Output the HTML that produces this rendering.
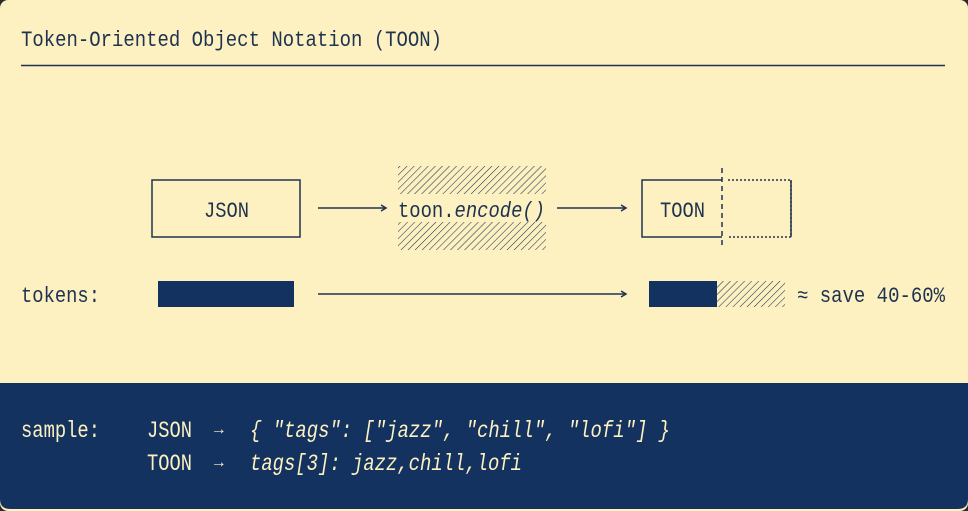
<!DOCTYPE html>
<html><head><style>
html,body{margin:0;padding:0;background:#2a2a2a;}
svg{display:block}
text{font-family:"Liberation Mono","DejaVu Sans Mono",monospace;}
</style></head><body>
<svg width="968" height="511" viewBox="0 0 968 511" xmlns="http://www.w3.org/2000/svg">
<defs>
<pattern id="h" patternUnits="userSpaceOnUse" width="5" height="5" patternTransform="rotate(45)">
<rect width="5" height="5" fill="#fdf1c1"/>
<line x1="0" y1="0" x2="0" y2="5" stroke="#1e3350" stroke-width="1.1"/>
</pattern>
</defs>
<rect x="0" y="0" width="968" height="511" rx="8" fill="#fdf1c1"/>
<path d="M0 383 H968 V499 Q968 509 958 509 H10 Q0 509 0 499 Z" fill="#14325f"/>
<text x="21" y="46" font-size="22" fill="#1e3350" textLength="421" lengthAdjust="spacingAndGlyphs">Token-Oriented Object Notation (TOON)</text>
<line x1="21" y1="65.5" x2="945" y2="65.5" stroke="#1e3350" stroke-width="1.5"/>
<g stroke="#1e3350" fill="none" stroke-width="1.5">
<rect x="152" y="180" width="148" height="57"/>
<line x1="318" y1="208" x2="385" y2="208"/>
<line x1="557" y1="208" x2="625" y2="208"/>
<path d="M722 180 H642 V237 H722"/>
<line x1="722" y1="168" x2="722" y2="248" stroke-dasharray="5 4"/>
<path d="M728 180 H791 V237 H728" stroke-dasharray="2 2"/>
<line x1="791" y1="180" x2="791" y2="237"/>
<line x1="318" y1="294" x2="625" y2="294"/>
<path d="M381 205 L386 208 L381 211"/>
<path d="M621 205 L626 208 L621 211"/>
<path d="M621 291 L626 294 L621 297"/>
</g>
<rect x="398" y="166" width="148" height="28" fill="url(#h)"/>
<rect x="398" y="222" width="148" height="28" fill="url(#h)"/>
<text x="204" y="217" font-size="22" fill="#1e3350" textLength="45" lengthAdjust="spacingAndGlyphs">JSON</text>
<text x="398" y="217" font-size="22" fill="#1e3350" textLength="147" lengthAdjust="spacingAndGlyphs">toon.<tspan font-style="italic">encode()</tspan></text>
<text x="660" y="217" font-size="22" fill="#1e3350" textLength="45" lengthAdjust="spacingAndGlyphs">TOON</text>
<text x="21" y="302" font-size="22" fill="#1e3350" textLength="79" lengthAdjust="spacingAndGlyphs">tokens:</text>
<rect x="158" y="281" width="136" height="26" fill="#14325f"/>
<rect x="649" y="281" width="68" height="26" fill="#14325f"/>
<rect x="717" y="281" width="68" height="26" fill="url(#h)"/>
<text x="797" y="302" font-size="22" fill="#1e3350" textLength="148" lengthAdjust="spacingAndGlyphs">≈ save 40-60%</text>
<g fill="#fdf1c1" font-size="23">
<text x="21" y="437" textLength="79" lengthAdjust="spacingAndGlyphs">sample:</text>
<text x="147" y="437" textLength="45" lengthAdjust="spacingAndGlyphs">JSON</text>
<text x="214" y="434" font-size="16">→</text>
<text x="250" y="437" font-style="italic" textLength="420" lengthAdjust="spacingAndGlyphs">{ "tags": ["jazz", "chill", "lofi"] }</text>
<text x="147" y="470" textLength="45" lengthAdjust="spacingAndGlyphs">TOON</text>
<text x="214" y="467" font-size="16">→</text>
<text x="250" y="470" font-style="italic" textLength="272" lengthAdjust="spacingAndGlyphs">tags[3]: jazz,chill,lofi</text>
</g>
</svg>
</body></html>
